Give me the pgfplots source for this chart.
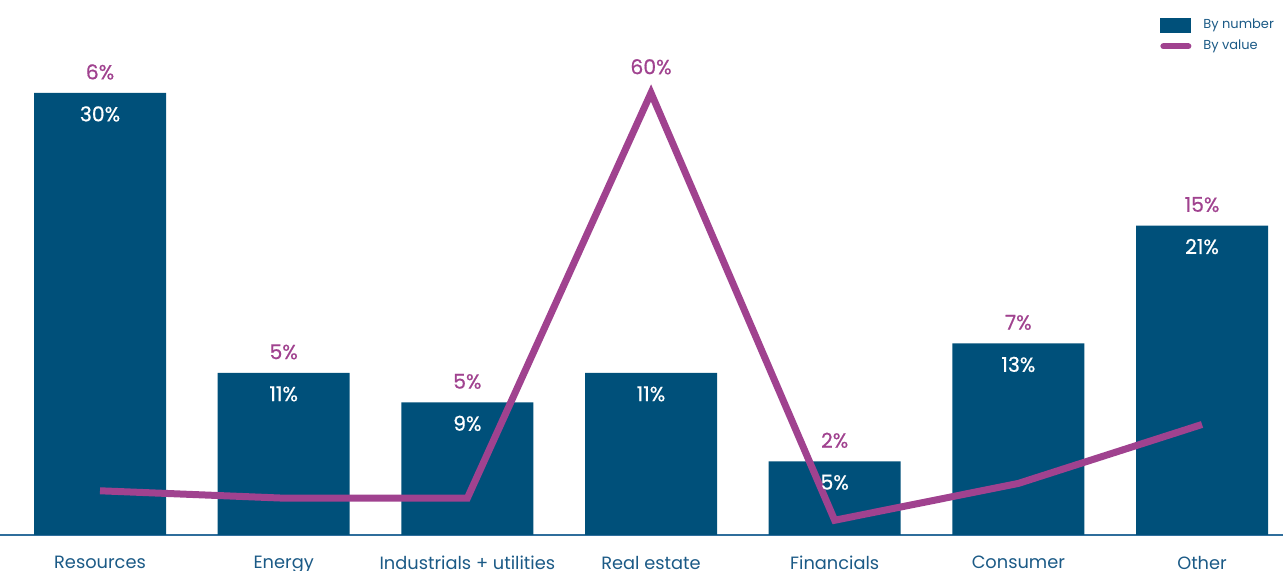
\documentclass[border=0pt]{standalone}
\usepackage{pgfplots}
\pgfplotsset{compat=1.18}
\usepackage{fontspec}
\setmainfont{Poppins}
\newfontfamily\valfont{Poppins}[FakeBold=0.6]
\definecolor{barblue}{HTML}{00507A}
\definecolor{linepurple}{HTML}{A0428F}
\definecolor{textblue}{HTML}{1B5A86}
\definecolor{axisblue}{HTML}{2F6E9C}
\begin{document}
\begin{tikzpicture}
\begin{axis}[
  scale only axis, width=641.5pt, height=267.5pt,
  xmin=-0.5445, xmax=6.4409, ymin=0, ymax=36.31,
  axis x line*=bottom, axis y line=none,
  x axis line style={-, draw=axisblue, line width=1pt},
  xtick={0,...,6},
  xticklabels={Resources,Energy,Industrials + utilities,Real estate,Financials,Consumer,Other},
  major tick length=0pt,
  xticklabel style={font=\fontsize{8.9}{11}\selectfont, text=textblue, anchor=north, inner sep=0pt, yshift=-10.5pt},
  ytick=\empty,
  clip=false,
  legend style={draw=none, fill=none, at={(rel axis cs:0.9041,0.972)}, anchor=north west,
    font=\fontsize{6.5}{8}\selectfont, text=textblue, inner sep=0pt, row sep=0pt,
    /tikz/every odd column/.append style={column sep=4pt}},
  legend cell align=left,
]
\addplot[ybar, bar width=66pt, fill=barblue, draw=none,
  legend image code/.code={\fill[barblue] (0pt,-3.75pt) rectangle (15.5pt,3.75pt);}]
  coordinates {(0,30) (1,11) (2,9) (3,11) (4,5) (5,13) (6,21)};
\addlegendentry{By number}
\addplot[linepurple, line width=3.5pt, line join=miter, mark=none,
  legend image code/.code={\draw[linepurple, line width=3pt, line cap=round] (1.5pt,0pt) -- (14pt,0pt);}]
  coordinates {(0,3) (1,2.5) (2,2.5) (3,30) (4,1) (5,3.5) (6,7.5)};
\addlegendentry{By value}
% white labels inside bars
\addplot[draw=none, mark=none, forget plot, nodes near coords, point meta=explicit symbolic,
  nodes near coords style={anchor=center, yshift=-10.5pt, text=white, font=\valfont\fontsize{10.2}{12}\selectfont}]
  coordinates {(0,30) [30\%] (1,11) [11\%] (2,9) [9\%] (3,11) [11\%] (4,5) [5\%] (5,13) [13\%] (6,21) [21\%]};
% purple labels above
\addplot[draw=none, mark=none, forget plot, nodes near coords, point meta=explicit symbolic,
  nodes near coords style={anchor=center, yshift=10.5pt, text=linepurple, font=\valfont\fontsize{10.2}{12}\selectfont}]
  coordinates {(0,30) [6\%] (1,11) [5\%] (2,9) [5\%] (3,30.35) [60\%] (4,5) [2\%] (5,13) [7\%] (6,21) [15\%]};
\end{axis}
\pgfresetboundingbox
\path[use as bounding box] ([yshift=-18pt]current axis.south west) rectangle (current axis.north east);
\end{tikzpicture}
\end{document}
